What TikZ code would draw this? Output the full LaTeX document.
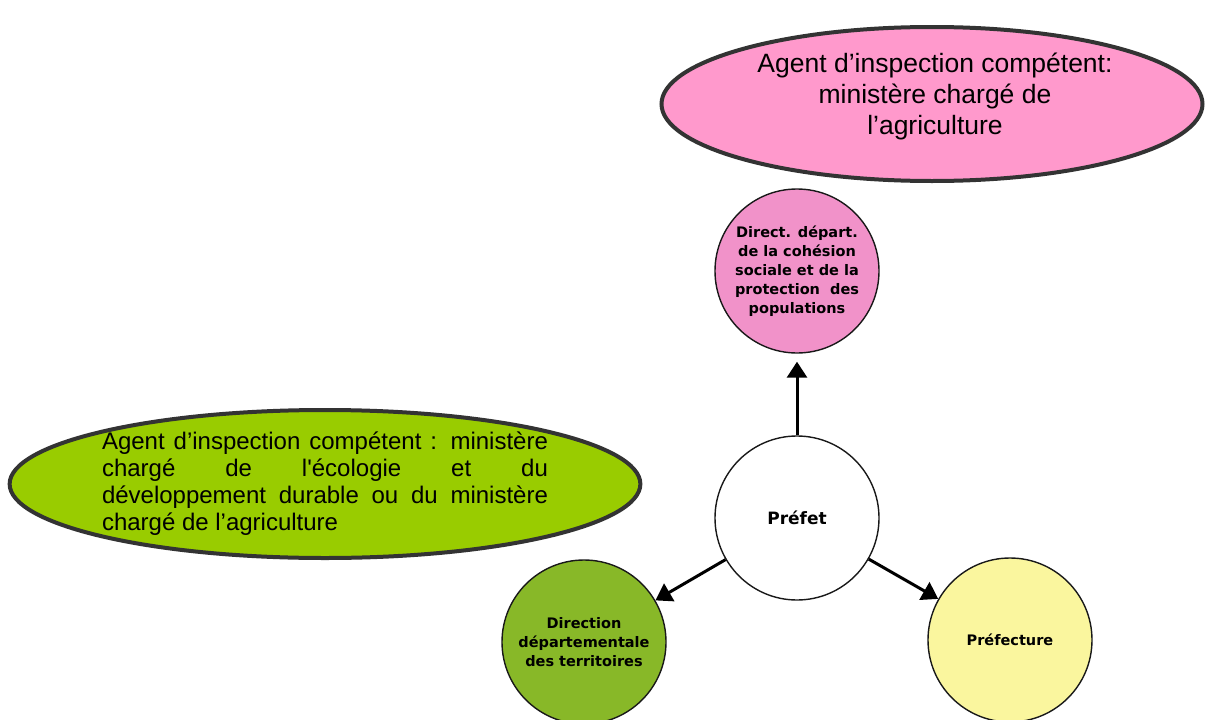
\documentclass[tikz,border=0pt]{standalone}
\usepackage{fontspec}
\setmainfont{Liberation Sans}
\newfontfamily\circfont{DejaVu Sans}
\usepackage{xcolor}
\usetikzlibrary{shapes.geometric,arrows.meta}
\definecolor{agentpink}{RGB}{255,153,204}
\definecolor{ddpppink}{RGB}{241,146,201}
\definecolor{agentgreen}{RGB}{153,204,0}
\definecolor{ddtgreen}{RGB}{136,184,40}
\definecolor{prefyellow}{RGB}{250,246,158}
\hyphenpenalty=10000
\hbadness=10000

\begin{document}
\begin{tikzpicture}[x=1pt,y=-1pt,
  agent/.style={ellipse,draw=black!80,line width=4pt,inner sep=0pt},
  service/.style={circle,draw=black!90,line width=1.4pt,minimum size=164pt,
    inner sep=0pt,align=center,text=black,
    font=\circfont\bfseries\fontsize{14.5}{19}\selectfont},
  link/.style={-{Triangle[length=16pt,width=20pt]},line width=3pt}]
  \useasboundingbox (0,0) rectangle (1205,720);
  % inspection agents
  \node[agent,fill=agentpink,minimum width=541pt,minimum height=154pt] (agri) at (932,104) {};
  \node[align=center,font=\fontsize{26.5}{31}\selectfont] (agritext) at (935,96)
    {Agent d’inspection compétent:\\ministère chargé de\\l’agriculture};
  \node[agent,fill=agentgreen,minimum width=626pt,minimum height=148pt,
    text width=446pt,align=justify,font=\fontsize{24}{27}\selectfont] (eco) at (325,484)
    {Agent d’inspection compétent : ministère\linebreak
     chargé de l\textquotesingle écologie et du\linebreak
     développement durable ou du ministère\linebreak
     chargé de l’agriculture};
  % services
  \node[service,fill=white,font=\circfont\bfseries\fontsize{17}{20}\selectfont]
    (prefet) at (797,518) {Préfet};
  \node[service,fill=ddpppink] (ddpp) at (797,271)
    {Direct. départ.\\de la cohésion\\sociale et de la\\protection~ des\\populations};
  \node[service,fill=ddtgreen] (ddt) at (584,642)
    {Direction\\départementale\\des territoires};
  \node[service,fill=prefyellow] (prefecture) at (1010,640) {Préfecture};
  % links
  \draw[link,shorten >=8pt] (prefet) -- (ddpp);
  \draw[link] (prefet) -- (ddt);
  \draw[link] (prefet) -- (prefecture);
\end{tikzpicture}
\end{document}
